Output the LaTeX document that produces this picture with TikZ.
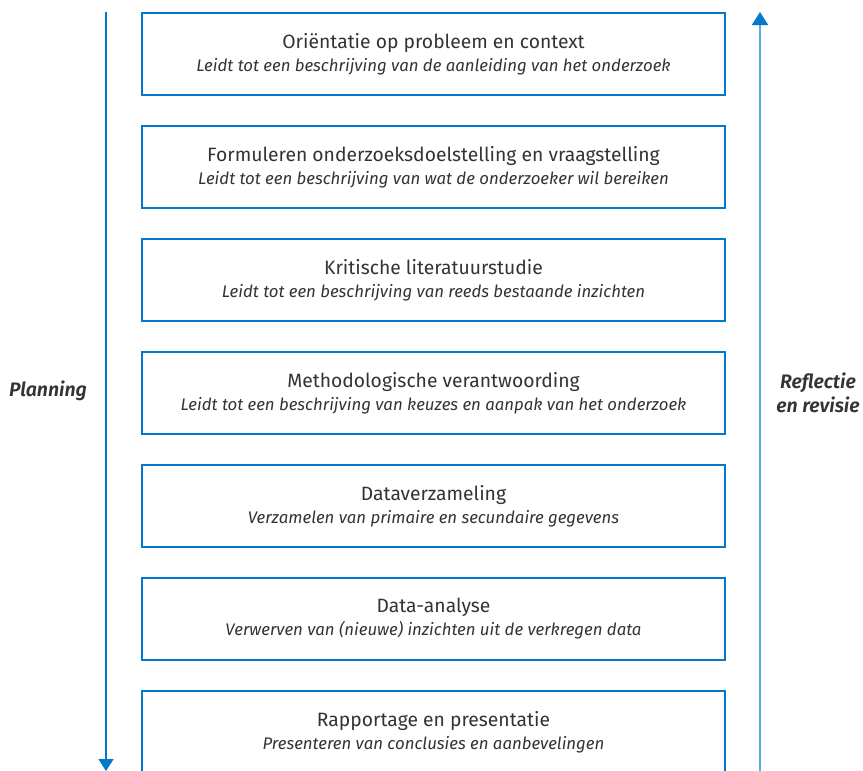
\documentclass[tikz,border=0pt]{standalone}
\usepackage{fontspec}
\setmainfont{Fira Sans}
\newfontfamily\labelfont{Fira Sans SemiBold Italic}
\usepackage{xcolor}
\usetikzlibrary{arrows.meta, positioning}
\definecolor{boxblue}{RGB}{0,122,201}
\definecolor{lineblue}{RGB}{84,172,226}
\definecolor{textgray}{RGB}{51,51,51}

\begin{document}
\begin{tikzpicture}[
  x=1pt, y=-1pt,
  node distance=31pt,
  stap/.style={draw=boxblue,line width=2.5pt,minimum width=583pt,minimum height=82pt,outer sep=0pt,
    align=center,text=textgray,font=\fontsize{19.3}{23}\selectfont},
  zijlabel/.style={align=center,text=textgray,font=\fontsize{19.5}{24}\labelfont}]
  \useasboundingbox (0,0) rectangle (863,771);
  \node[stap] (orientatie) at (433.5,54) {Oriëntatie op probleem en context\\{\itshape\fontsize{16.8}{23}\selectfont Leidt tot een beschrijving van de aanleiding van het onderzoek}};
  \node[stap,below=of orientatie] (doel) {Formuleren onderzoeksdoelstelling en vraagstelling\\{\itshape\fontsize{16.8}{23}\selectfont Leidt tot een beschrijving van wat de onderzoeker wil bereiken}};
  \node[stap,below=of doel] (literatuur) {Kritische literatuurstudie\\{\itshape\fontsize{16.8}{23}\selectfont Leidt tot een beschrijving van reeds bestaande inzichten}};
  \node[stap,below=of literatuur] (methode) {Methodologische verantwoording\\{\itshape\fontsize{16.8}{23}\selectfont Leidt tot een beschrijving van keuzes en aanpak van het onderzoek}};
  \node[stap,below=of methode] (data) {Dataverzameling\\{\itshape\fontsize{16.8}{23}\selectfont Verzamelen van primaire en secundaire gegevens}};
  \node[stap,below=of data] (analyse) {Data-analyse\\{\itshape\fontsize{16.8}{23}\selectfont Verwerven van (nieuwe) inzichten uit de verkregen data}};
  \node[stap,below=of analyse] (rapport) {Rapportage en presentatie\\{\itshape\fontsize{16.8}{23}\selectfont Presenteren van conclusies en aanbevelingen}};
  % pijlen langs de zijkant
  \coordinate (planBoven) at (106,12);
  \coordinate (planOnder) at (106,771);
  \coordinate (reflOnder) at (760,771);
  \coordinate (reflBoven) at (760,12);
  \draw[boxblue,line width=1.5pt,-{Triangle[length=12pt,width=15pt]}] (planBoven)--(planOnder);
  \draw[lineblue,line width=2pt,-{Triangle[length=13pt,width=16pt,color=boxblue]}] (reflOnder)--(reflBoven);
  \node[zijlabel] (planning) at (48,391) {Planning};
  \node[zijlabel] (reflectie) at (818,393) {Reflectie\\en revisie};
\end{tikzpicture}
\end{document}
